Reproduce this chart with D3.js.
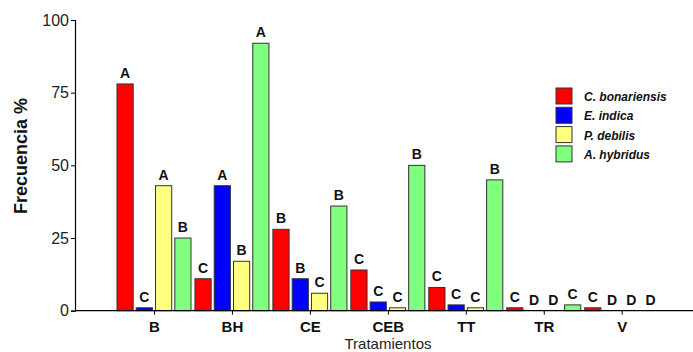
<!DOCTYPE html>
<html>
<head>
<meta charset="utf-8">
<script src="https://cdn.jsdelivr.net/npm/d3@7"></script>
<style>
  body { margin: 0; background: #fff; }
  text { font-family: Arial, "Liberation Sans", sans-serif; }
</style>
</head>
<body>
<div class="chart"></div>
<script>
const w = 693;
const h = 352;

// data
const treatments = ["B", "BH", "CE", "CEB", "TT", "TR", "V"];
const species = ["C. bonariensis", "E. indica", "P. debilis", "A. hybridus"];
const colors = ["#ff0000", "#0000ff", "#ffff80", "#80ff80"];
const cBonariensis = [78, 11, 28, 14, 8, 1, 1];
const eIndica = [1, 43, 11, 3, 2, 0, 0];
const pDebilis = [43, 17, 6, 1, 1, 0, 0];
const aHybridus = [25, 92, 36, 50, 45, 2, 0];
const lettersCB = ["A", "C", "B", "C", "C", "C", "C"];
const lettersEI = ["C", "A", "B", "C", "C", "D", "D"];
const lettersPD = ["A", "B", "C", "C", "C", "D", "D"];
const lettersAH = ["B", "A", "B", "B", "B", "C", "D"];
const yTicks = [0, 25, 50, 75, 100];

const series = [cBonariensis, eIndica, pDebilis, aHybridus];
const letters = [lettersCB, lettersEI, lettersPD, lettersAH];

const svg = d3
  .select(".chart")
  .append("svg")
  .attr("width", w)
  .attr("height", h);

const x0 = 75;
const yScale = d3.scaleLinear().domain([0, 100]).range([310.7, 20]);

const x = d3
  .scalePoint()
  .domain(treatments)
  .range([154, 621.7]);

const xInner = d3
  .scaleBand()
  .domain(species)
  .range([-37, 37])
  .paddingInner(0.16);

// bars
const bars = [];
series.forEach((vals, s) => {
  vals.forEach((v, i) => {
    bars.push({ t: treatments[i], s: species[s], si: s, v: v, l: letters[s][i] });
  });
});

svg
  .append("g")
  .selectAll("rect")
  .data(bars.filter((d) => d.v > 0))
  .enter()
  .append("rect")
  .attr("x", (d) => x(d.t) + xInner(d.s))
  .attr("y", (d) => yScale(d.v))
  .attr("width", xInner.bandwidth())
  .attr("height", (d) => yScale(0) - yScale(d.v))
  .attr("fill", (d) => colors[d.si])
  .attr("stroke", "#333")
  .attr("stroke-width", 1);

// letters
svg
  .append("g")
  .selectAll("text")
  .data(bars)
  .enter()
  .append("text")
  .attr("x", (d) => x(d.t) + xInner(d.s) + xInner.bandwidth() / 2)
  .attr("y", (d) => yScale(d.v) - 6)
  .attr("text-anchor", "middle")
  .style("font-size", "14px")
  .style("font-weight", "bold")
  .style("fill", "#111")
  .text((d) => d.l);

// y axis
const yAxis = d3.axisLeft(yScale).tickValues(yTicks).tickSize(4).tickPadding(2);
const gy = svg.append("g").attr("transform", `translate(${x0},0)`).call(yAxis);
gy.select(".domain").attr("stroke", "#000").attr("stroke-width", 1.2);
gy.selectAll(".tick line").attr("stroke", "#000");
gy.selectAll(".tick text")
  .style("font-size", "16px")
  .style("font-family", "Arial, 'Liberation Sans', sans-serif")
  .attr("fill", "#222");

// x axis
const xAxis = d3.axisBottom(x).tickSize(4).tickPadding(7).tickSizeOuter(0);
const gx = svg.append("g").attr("transform", `translate(0,${yScale(0)})`).call(xAxis);
gx.select(".domain").remove();
gx.append("line")
  .attr("x1", x0)
  .attr("x2", w)
  .attr("stroke", "#000")
  .attr("stroke-width", 1.2);
gx.selectAll(".tick line").attr("stroke", "#000");
gx.selectAll(".tick text")
  .style("font-size", "15px")
  .style("font-weight", "bold")
  .style("font-family", "Arial, 'Liberation Sans', sans-serif")
  .attr("fill", "#111");

// axis titles
svg
  .append("text")
  .attr("x", 388)
  .attr("y", 349)
  .attr("text-anchor", "middle")
  .style("font-size", "15px")
  .style("fill", "#222")
  .text("Tratamientos");

svg
  .append("text")
  .attr("transform", "translate(27,156) rotate(-90)")
  .attr("text-anchor", "middle")
  .style("font-size", "18px")
  .style("font-weight", "bold")
  .style("fill", "#111")
  .text("Frecuencia %");

// legend
const legend = svg.append("g").attr("id", "legend");
legend
  .selectAll("rect")
  .data(species)
  .enter()
  .append("rect")
  .attr("x", 556)
  .attr("y", (d, i) => 88 + i * 19.3)
  .attr("width", 16)
  .attr("height", 16)
  .attr("fill", (d, i) => colors[i])
  .attr("stroke", "#333");
legend
  .selectAll("text")
  .data(species)
  .enter()
  .append("text")
  .attr("x", 584)
  .attr("y", (d, i) => 101 + i * 19.3)
  .style("font-size", "12px")
  .style("font-weight", "bold")
  .style("font-style", "italic")
  .style("fill", "#111")
  .text((d) => d);
</script>
</body>
</html>
